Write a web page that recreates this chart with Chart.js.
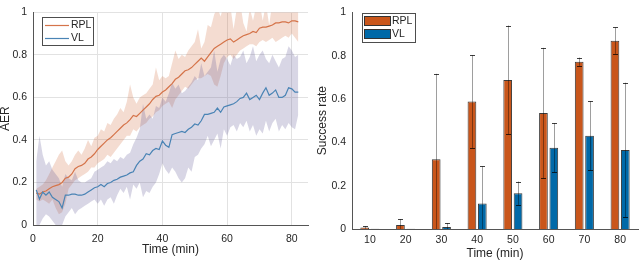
<!DOCTYPE html>
<html>
<head>
<meta charset="utf-8">
<script src="https://cdn.jsdelivr.net/npm/chart.js@4.4.1/dist/chart.umd.min.js"></script>
<style>
  html, body { margin: 0; padding: 0; background: #fff; }
  #wrap { position: relative; width: 640px; height: 260px; overflow: hidden; }
  #left { position: absolute; left: 0; top: 0; }
  #right { position: absolute; left: 312px; top: 0; }
</style>
</head>
<body>
<div id="wrap">
  <canvas id="left" width="312" height="260"></canvas>
  <canvas id="right" width="328" height="260"></canvas>
</div>
<script>
// ---- left panel: AER over time (mean line + shaded band) ----
const times = [1,2,3,4,5,6,7,8,9,10,11,12,13,14,15,16,17,18,19,20,
  21,22,23,24,25,26,27,28,29,30,31,32,33,34,35,36,37,38,39,40,
  41,42,43,44,45,46,47,48,49,50,51,52,53,54,55,56,57,58,59,60,
  61,62,63,64,65,66,67,68,69,70,71,72,73,74,75,76,77,78,79,80,81,82];

const rplMean = [0.15,0.145,0.155,0.16,0.17,0.18,0.185,0.19,0.2,0.22,
  0.225,0.24,0.265,0.275,0.28,0.29,0.31,0.32,0.335,0.355,
  0.37,0.385,0.4,0.41,0.425,0.44,0.455,0.47,0.48,0.495,
  0.515,0.51,0.525,0.54,0.555,0.57,0.59,0.605,0.61,0.625,
  0.635,0.65,0.665,0.685,0.695,0.71,0.725,0.73,0.74,0.755,
  0.77,0.785,0.77,0.79,0.81,0.83,0.84,0.85,0.86,0.87,
  0.875,0.86,0.87,0.88,0.89,0.895,0.9,0.91,0.905,0.925,
  0.93,0.93,0.935,0.94,0.95,0.95,0.955,0.955,0.95,0.96,0.96,0.955];
const rplLow = [0.12,0.11,0.12,0.11,0.10,0.12,0.08,0.05,0.06,0.10,
  0.17,0.19,0.21,0.22,0.23,0.24,0.25,0.27,0.27,0.29,
  0.30,0.31,0.33,0.32,0.34,0.36,0.38,0.40,0.42,0.42,
  0.45,0.44,0.46,0.47,0.48,0.50,0.51,0.53,0.54,0.56,
  0.57,0.58,0.55,0.59,0.61,0.63,0.65,0.64,0.66,0.68,
  0.69,0.69,0.70,0.71,0.70,0.66,0.65,0.70,0.76,0.79,
  0.80,0.78,0.80,0.82,0.83,0.84,0.85,0.85,0.84,0.86,
  0.87,0.86,0.87,0.88,0.86,0.87,0.88,0.89,0.88,0.90,0.88,0.86];
const rplHigh = [0.17,0.18,0.19,0.21,0.24,0.27,0.30,0.33,0.35,0.30,
  0.28,0.30,0.33,0.35,0.33,0.36,0.40,0.37,0.41,0.42,
  0.45,0.44,0.48,0.47,0.50,0.52,0.55,0.53,0.58,0.66,
  0.60,0.57,0.60,0.61,0.62,0.64,0.66,0.74,0.68,0.70,
  0.69,0.70,0.76,0.82,0.78,0.80,0.79,0.82,0.84,0.86,
  0.92,0.83,0.86,0.94,0.93,0.99,1.02,0.98,1.04,1.00,
  1.03,0.92,1.02,1.05,0.95,0.91,1.02,0.96,1.03,1.05,
  0.96,1.04,0.94,1.05,1.03,1.06,1.02,1.04,1.05,1.04,1.03,1.05];

const vlMean = [0.165,0.122,0.155,0.14,0.155,0.13,0.12,0.11,0.08,0.14,
  0.14,0.145,0.145,0.14,0.14,0.145,0.155,0.165,0.175,0.18,
  0.19,0.18,0.195,0.2,0.21,0.215,0.225,0.23,0.235,0.245,
  0.25,0.28,0.3,0.31,0.335,0.33,0.35,0.36,0.355,0.395,
  0.375,0.365,0.425,0.43,0.435,0.44,0.435,0.45,0.46,0.475,
  0.47,0.49,0.52,0.52,0.525,0.53,0.55,0.53,0.555,0.56,
  0.565,0.57,0.58,0.595,0.6,0.62,0.59,0.6,0.61,0.59,
  0.62,0.645,0.61,0.62,0.635,0.6,0.6,0.61,0.645,0.64,0.625,0.625];
const vlLow = [0.00,0.00,0.03,0.05,0.04,0.02,0.00,0.00,0.00,0.04,
  0.06,0.08,0.05,0.07,0.08,0.09,0.10,0.11,0.12,0.10,
  0.12,0.09,0.12,0.13,0.10,0.14,0.17,0.15,0.18,0.12,
  0.19,0.17,0.20,0.13,0.16,0.15,0.18,0.20,0.24,0.29,
  0.26,0.24,0.27,0.25,0.22,0.20,0.22,0.27,0.25,0.32,
  0.33,0.36,0.38,0.42,0.37,0.40,0.43,0.36,0.45,0.42,
  0.46,0.47,0.44,0.48,0.46,0.49,0.44,0.47,0.42,0.45,
  0.43,0.49,0.44,0.48,0.50,0.44,0.47,0.45,0.48,0.46,0.45,0.52];
const vlHigh = [0.30,0.42,0.33,0.28,0.30,0.26,0.24,0.22,0.18,0.24,
  0.22,0.21,0.25,0.21,0.20,0.20,0.21,0.22,0.25,0.26,
  0.27,0.28,0.30,0.29,0.31,0.30,0.32,0.31,0.33,0.34,
  0.38,0.41,0.45,0.57,0.50,0.52,0.50,0.56,0.55,0.60,
  0.58,0.62,0.67,0.64,0.66,0.62,0.63,0.65,0.67,0.70,
  0.68,0.76,0.70,0.72,0.74,0.82,0.72,0.78,0.80,0.78,
  0.75,0.80,0.78,0.79,0.82,0.76,0.79,0.84,0.77,0.80,
  0.82,0.78,0.76,0.80,0.77,0.74,0.78,0.79,0.84,0.82,0.79,0.80];

// ---- right panel: success rate per time bucket ----
const buckets = ['10','20','30','40','50','60','70','80'];
const rplRate = [0.007,0.018,0.322,0.588,0.688,0.535,0.772,0.869];
const rplErr  = [0.006,0.027,0.394,0.214,0.251,0.301,0.019,0.061];
const vlRate  = [0.001,0.001,0.009,0.118,0.165,0.375,0.430,0.365];
const vlErr   = [0.000,0.000,0.018,0.171,0.054,0.114,0.160,0.310];

const FONT = '"Liberation Sans", Arial, Helvetica, sans-serif';
Chart.defaults.font.family = FONT;
Chart.defaults.color = '#262626';

// MATLAB-like tick text: 1 instead of 1.0
const plainTick = v => String(Math.round(v * 10) / 10);

// legend drawn as a boxed inset, MATLAB style
const boxLegend = {
  id: 'boxLegend',
  afterDraw(chart, args, o) {
    const ctx = chart.ctx;
    const items = chart.data.datasets.filter(d => d.inLegend);
    ctx.save();
    ctx.fillStyle = '#fff';
    ctx.fillRect(o.x, o.y, o.w, o.h);
    ctx.strokeStyle = '#4d4d4d';
    ctx.lineWidth = 1;
    ctx.strokeRect(o.x + 0.5, o.y + 0.5, o.w, o.h);
    ctx.font = '10.5px ' + FONT;
    ctx.textBaseline = 'middle';
    items.forEach((d, i) => {
      const cy = o.y + o.first + i * o.gap;
      if (o.kind === 'line') {
        ctx.strokeStyle = d.borderColor;
        ctx.lineWidth = 1.2;
        ctx.beginPath();
        ctx.moveTo(o.sx, cy + 0.5);
        ctx.lineTo(o.sx + o.sw, cy + 0.5);
        ctx.stroke();
      } else {
        ctx.fillStyle = d.backgroundColor;
        ctx.fillRect(o.sx, cy - 5, o.sw, 10);
        ctx.strokeStyle = '#333';
        ctx.strokeRect(o.sx + 0.5, cy - 4.5, o.sw - 1, 9);
      }
      ctx.fillStyle = '#262626';
      ctx.fillText(d.label, o.tx, cy + 0.5);
    });
    ctx.restore();
  }
};

// symmetric error bars on top of each bar
const errorBars = {
  id: 'errorBars',
  afterDatasetsDraw(chart) {
    const ctx = chart.ctx;
    const y = chart.scales.y;
    const a = chart.chartArea;
    ctx.save();
    ctx.beginPath();
    ctx.rect(a.left, a.top, a.right - a.left, a.bottom - a.top);
    ctx.clip();
    chart.data.datasets.forEach((ds, di) => {
      const meta = chart.getDatasetMeta(di);
      meta.data.forEach((bar, i) => {
        const e = ds.errors[i];
        if (!e) return;
        const x = Math.round(bar.x) + 0.5;
        const yt = y.getPixelForValue(ds.data[i] + e);
        const yb = y.getPixelForValue(ds.data[i] - e);
        ctx.strokeStyle = 'rgba(0,0,0,0.38)';
        ctx.lineWidth = 1;
        ctx.beginPath();
        ctx.moveTo(x, yt);
        ctx.lineTo(x, yb);
        ctx.stroke();
        ctx.strokeStyle = 'rgba(0,0,0,0.75)';
        ctx.beginPath();
        ctx.moveTo(x - 2.5, Math.round(yt) + 0.5);
        ctx.lineTo(x + 2.5, Math.round(yt) + 0.5);
        ctx.moveTo(x - 2.5, Math.round(yb) + 0.5);
        ctx.lineTo(x + 2.5, Math.round(yb) + 0.5);
        ctx.stroke();
      });
    });
    ctx.restore();
  }
};

function band(data, color, fill, order) {
  return { data, fill, backgroundColor: color, borderColor: 'rgba(0,0,0,0)',
           borderWidth: 0, pointRadius: 0, tension: 0, order };
}

new Chart(document.getElementById('left'), {
  type: 'line',
  data: {
    labels: times,
    datasets: [
      band(rplHigh, 'rgba(205,95,45,0.22)', '+1', 3),
      band(rplLow, 'rgba(0,0,0,0)', false, 3),
      band(vlHigh, 'rgba(100,90,150,0.25)', '+1', 2),
      band(vlLow, 'rgba(0,0,0,0)', false, 2),
      { label: 'RPL', inLegend: true, data: rplMean, borderColor: '#d5744a', borderWidth: 1.2,
        pointRadius: 0, fill: false, tension: 0, order: 1 },
      { label: 'VL', inLegend: true, data: vlMean, borderColor: '#4a84b5', borderWidth: 1.2,
        pointRadius: 0, fill: false, tension: 0, order: 0 }
    ]
  },
  options: {
    responsive: false,
    animation: false,
    layout: { padding: { top: 10, right: 4, left: 0, bottom: 0 } },
    plugins: {
      legend: { display: false },
      tooltip: { enabled: false },
      boxLegend: { kind: 'line', x: 42, y: 17, w: 51, h: 28, first: 8, gap: 13, sx: 45, sw: 24, tx: 71 }
    },
    scales: {
      x: {
        type: 'linear', min: 0, max: 85,
        ticks: { stepSize: 20, includeBounds: false, padding: 8, maxRotation: 0, font: { size: 10.5 } },
        grid: { color: '#e2e2e2', drawTicks: false },
        border: { color: '#555' },
        title: { display: true, text: 'Time (min)', font: { size: 12, lineHeight: 1 }, padding: { top: 0, bottom: 4 } },
        afterFit(s) { s.height = 35; }
      },
      y: {
        min: 0, max: 1,
        ticks: { stepSize: 0.2, padding: 6, font: { size: 10.5 }, callback: plainTick },
        grid: { color: '#e2e2e2', drawTicks: false },
        border: { color: '#555' },
        title: { display: true, text: 'AER', font: { size: 12, lineHeight: 1 }, padding: { top: 0, bottom: 0 } },
        afterFit(s) { s.width = 33; }
      }
    }
  },
  plugins: [boxLegend]
});

new Chart(document.getElementById('right'), {
  type: 'bar',
  data: {
    labels: buckets,
    datasets: [
      { label: 'RPL', inLegend: true, data: rplRate, errors: rplErr, backgroundColor: '#c9561b',
        borderColor: '#3a3a3a', borderWidth: 1, borderSkipped: 'bottom',
        categoryPercentage: 0.58, barPercentage: 0.84 },
      { label: 'VL', inLegend: true, data: vlRate, errors: vlErr, backgroundColor: '#0069a8',
        borderColor: '#3a3a3a', borderWidth: 1, borderSkipped: 'bottom',
        categoryPercentage: 0.58, barPercentage: 0.84 }
    ]
  },
  options: {
    responsive: false,
    animation: false,
    layout: { padding: { top: 5, right: 2, left: 0, bottom: 0 } },
    plugins: {
      legend: { display: false },
      tooltip: { enabled: false },
      boxLegend: { kind: 'rect', x: 50, y: 13, w: 53, h: 29, first: 8, gap: 13, sx: 52, sw: 27, tx: 80 }
    },
    scales: {
      x: {
        ticks: { padding: 5, maxRotation: 0, font: { size: 10.5 } },
        grid: { display: false, drawTicks: false },
        border: { color: '#555' },
        title: { display: true, text: 'Time (min)', font: { size: 12, lineHeight: 1 }, padding: { top: 0, bottom: 0 } },
        afterFit(s) { s.height = 31; }
      },
      y: {
        min: 0, max: 1,
        ticks: { stepSize: 0.2, padding: 6, font: { size: 10.5 }, callback: plainTick },
        grid: { display: false, drawTicks: false },
        border: { color: '#555' },
        title: { display: true, text: 'Success rate', font: { size: 12, lineHeight: 1 }, padding: { top: 5, bottom: 0 } },
        afterFit(s) { s.width = 40; }
      }
    }
  },
  plugins: [boxLegend, errorBars]
});
</script>
</body>
</html>
